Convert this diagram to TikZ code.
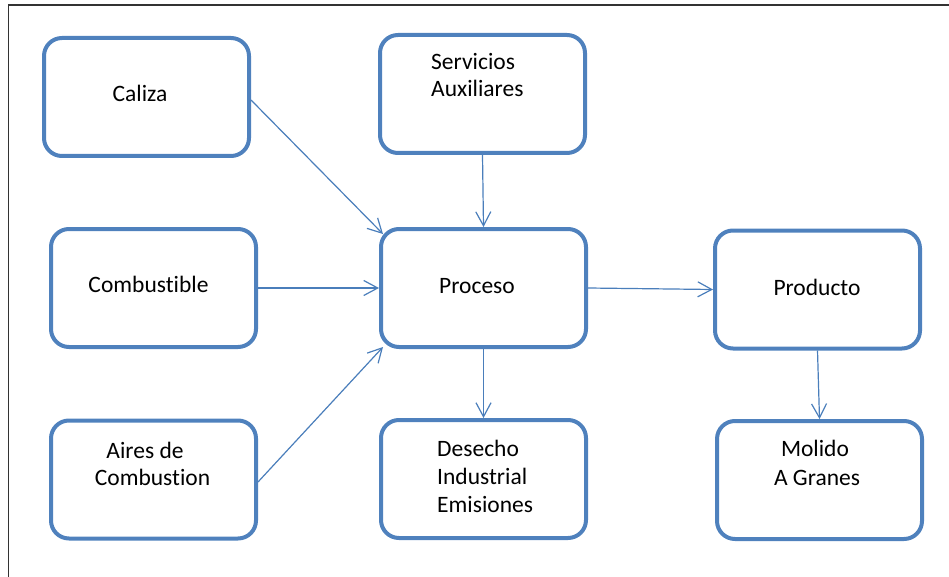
\documentclass[tikz,border=0pt]{standalone}
\usepackage{fontspec}
\setmainfont{Carlito}[Ligatures=NoCommon]
\usetikzlibrary{arrows.meta}
\definecolor{boxblue}{HTML}{4F81BD}
\definecolor{linkblue}{HTML}{4A7EBB}
\begin{document}
\begin{tikzpicture}[x=1pt,y=-1pt,
  box/.style={draw=boxblue, line width=4pt, rounded corners=18pt,
    minimum width=205pt, minimum height=118pt, inner sep=0pt},
  lbl/.style={inner sep=0pt, font=\fontsize{23.5}{28}\selectfont},
  link/.style={draw=linkblue, line width=1.2pt,
    -{Straight Barb[length=14pt,width=15pt]}}]
\useasboundingbox (0,0) rectangle (949,577);

% partial frame (top and left edges)
\draw[black!80, line width=1.6pt] (949,5) -- (8.5,5) -- (8.5,577);

% boxes
\node[box] (caliza) at (146.5,97) {};
\node[box] (serv)   at (482.5,94) {};
\node[box] (comb)   at (153.5,288) {};
\node[box] (proc)   at (483.5,288) {};
\node[box] (prod)   at (817.5,289.5) {};
\node[box] (aires)  at (153.5,479.5) {};
\node[box] (des)    at (483.5,479) {};
\node[box] (mol)    at (819.5,480) {};

% labels
\node[lbl, anchor=base] (calizaT) at (140,102) {Caliza};
\node[lbl, anchor=base west] (servT1) at (431,70) {Servicios};
\node[lbl, anchor=base west] (servT2) at (431,97) {Auxiliares};
\node[lbl, anchor=base] (combT) at (148.5,292) {Combustible};
\node[lbl, anchor=base] (procT) at (477,293) {Proceso};
\node[lbl, anchor=base] (prodT) at (817,295) {Producto};
\node[lbl, anchor=base] (airesT1) at (145,458) {Aires de};
\node[lbl, anchor=base] (airesT2) at (152.5,485) {Combustion};
\node[lbl, anchor=base west] (desT1) at (437,456) {Desecho};
\node[lbl, anchor=base west] (desT2) at (437,484) {Industrial};
\node[lbl, anchor=base west] (desT3) at (437,512) {Emisiones};
\node[lbl, anchor=base] (molT1) at (815,456) {Molido};
\node[lbl, anchor=base] (molT2) at (817,485) {A Granes};

% connectors
\draw[link] ([shift={(0,3)}]caliza.east) -- ([shift={(4,7)}]proc.north west);
\draw[link] (serv.south) -- (proc.north);
\draw[link] (comb.east) -- (proc.west);
\draw[link] ([shift={(0,2.5)}]aires.east) -- ([shift={(4,-2)}]proc.south west);
\draw[link] (proc.south) -- (des.north);
\draw[link] (proc.east) -- (prod.west);
\draw[link] (prod.south) -- (mol.north);
\end{tikzpicture}
\end{document}
